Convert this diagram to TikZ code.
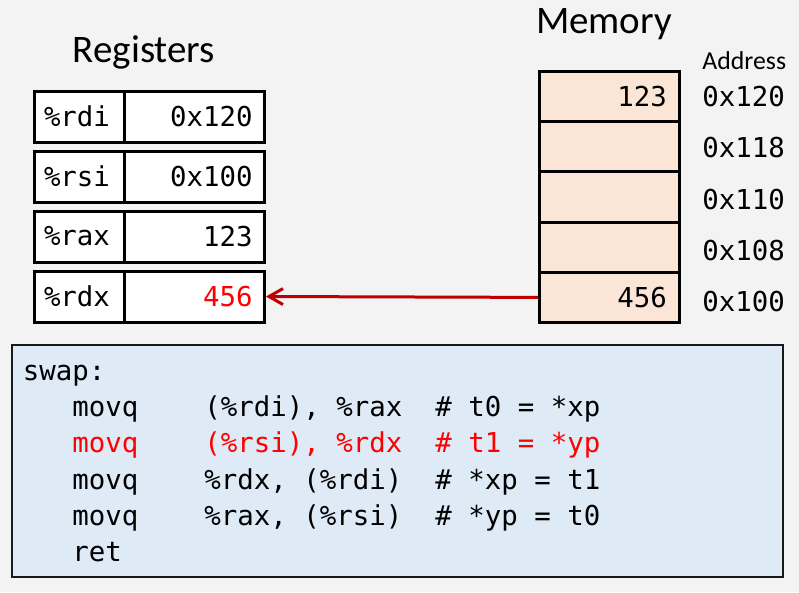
\documentclass[tikz,border=0pt]{standalone}
\usepackage{fontspec}
\newfontfamily\titlefont{Carlito}
\newfontfamily\codefont{DejaVu Sans Mono}
\usetikzlibrary{arrows.meta}
\definecolor{bggray}{HTML}{F3F3F3}
\definecolor{memfill}{HTML}{FBE5D6}
\definecolor{codefill}{HTML}{DEEAF6}
\definecolor{arrowred}{HTML}{C00000}
\definecolor{hired}{HTML}{FF0000}

\begin{document}
\begin{tikzpicture}[
    x=1pt, y=-1pt,
    title/.style={font=\titlefont\fontsize{39}{44}\selectfont, anchor=base, inner sep=0pt},
    code/.style={font=\codefont\fontsize{27.4}{33}\selectfont, anchor=base west, inner sep=0pt},
    regname/.style={draw, line width=3pt, fill=white, minimum width=91pt, minimum height=51pt,
      inner xsep=10pt, text width=71pt, align=left, font=\codefont\fontsize{27.4}{33}\selectfont},
    regval/.style={draw, line width=3pt, fill=white, minimum width=140pt, minimum height=51pt,
      inner xsep=12pt, text width=116pt, align=right, font=\codefont\fontsize{27.4}{33}\selectfont},
    memcell/.style={draw, line width=3pt, fill=memfill, minimum width=140pt, minimum height=50.2pt,
      inner xsep=12.5pt, text width=115pt, align=right, font=\codefont\fontsize{27.4}{33}\selectfont},
    addr/.style={code},
    >=stealth, thick
  ]
  % background
  \fill[bggray] (0,0) rectangle (799,592);

  % titles
  \node[title] (regtitle) at (144,62) {Registers};
  \node[title] (memtitle) at (604,33) {Memory};
  \node[anchor=base west, inner sep=0pt, font=\titlefont\fontsize{25.8}{30}\selectfont]
    (addrtitle) at (702,69) {Address};

  % registers
  \node[regname] (rdi) at (79.5,116.5) {\%rdi};
  \node[regval]  (rdiv) at (194.5,116.5) {0x120};
  \node[regname] (rsi) at (79.5,176.5) {\%rsi};
  \node[regval]  (rsiv) at (194.5,176.5) {0x100};
  \node[regname] (rax) at (79.5,236.5) {\%rax};
  \node[regval]  (raxv) at (194.5,236.5) {123};
  \node[regname] (rdx) at (79.5,296.5) {\%rdx};
  \node[regval, text=hired] (rdxv) at (194.5,296.5) {456};

  % memory
  \node[memcell] (m120) at (609.3,96.6) {123};
  \node[memcell] (m118) at (609.3,146.8) {};
  \node[memcell] (m110) at (609.3,197) {};
  \node[memcell] (m108) at (609.3,247.2) {};
  \node[memcell] (m100) at (609.3,297.4) {456};

  % addresses
  \node[addr] (a120) at (702,106) {0x120};
  \node[addr] (a118) at (702,157.3) {0x118};
  \node[addr] (a110) at (702,209) {0x110};
  \node[addr] (a108) at (702,260) {0x108};
  \node[addr] (a100) at (702,311.7) {0x100};

  \draw[-{Straight Barb[length=14pt,width=16pt]}, line width=3pt, arrowred]
    (m100.west) -- (rdxv.east);

  % code
  \node[draw=black!90, line width=2pt, fill=codefill, minimum width=771pt, minimum height=232pt]
    (codebox) at (397.5,461) {};
  \node[code] (lbl) at (22.5,380) {swap:};
  \node[code] (i1) at (72,416) {movq};
  \node[code] (o1) at (204,416) {(\%rdi), \%rax};
  \node[code] (c1) at (435,416) {\# t0 = *xp};
  \node[code, text=hired] (i2) at (72,452.5) {movq};
  \node[code, text=hired] (o2) at (204,452.5) {(\%rsi), \%rdx};
  \node[code, text=hired] (c2) at (435,452.5) {\# t1 = *yp};
  \node[code] (i3) at (72,489) {movq};
  \node[code] (o3) at (204,489) {\%rdx, (\%rdi)};
  \node[code] (c3) at (435,489) {\# *xp = t1};
  \node[code] (i4) at (72,525.5) {movq};
  \node[code] (o4) at (204,525.5) {\%rax, (\%rsi)};
  \node[code] (c4) at (435,525.5) {\# *yp = t0};
  \node[code] (i5) at (72,561) {ret};
\end{tikzpicture}
\end{document}
